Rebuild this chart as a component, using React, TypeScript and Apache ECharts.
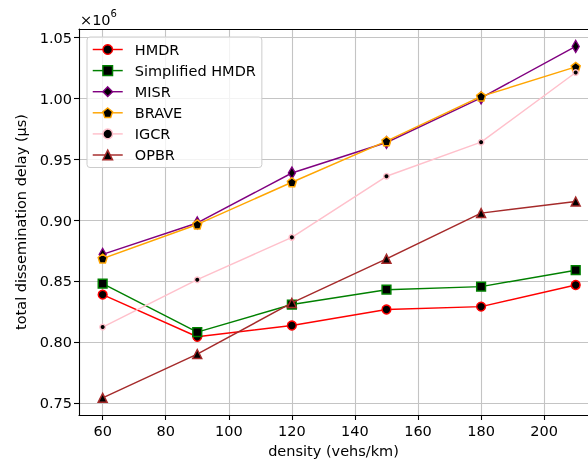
import React, { useEffect, useRef } from "react";
import * as echarts from "echarts";

const densities = [60, 90, 120, 150, 180, 210];
const xTicks = [60, 80, 100, 120, 140, 160, 180, 200];
const yTicks = [750000, 800000, 850000, 900000, 950000, 1000000, 1050000];

const hmdr = [839200, 804700, 813900, 827000, 829400, 847100];
const simplifiedHmdr = [848200, 808500, 831100, 843300, 845800, 859300];
const misr = [872200, 898000, 939000, 964000, 1000600, 1042800];
const brave = [868800, 896800, 931400, 965100, 1001800, 1026000];
const igcr = [812600, 851500, 886200, 936300, 964300, 1021400];
const opbr = [754600, 790500, 832400, 868600, 906100, 915600];

const seriesNames = ["HMDR", "Simplified HMDR", "MISR", "BRAVE", "IGCR", "OPBR"];
const seriesValues = [hmdr, simplifiedHmdr, misr, brave, igcr, opbr];
const seriesColors = ["#ff0000", "#008000", "#800080", "#ffa500", "#ffc0cb", "#a52a2a"];

const pentagon =
  "path://M0,-1 L0.951,-0.309 L0.588,0.809 L-0.588,0.809 L-0.951,-0.309 Z";
const seriesSymbols = ["circle", "rect", "diamond", pentagon, "circle", "triangle"];
const seriesSymbolSizes: any[] = [8.8, 8.8, [7, 12], 9, 5.5, 9];

const X_MIN = 52.5;
const X_MAX = 213.9;

const FONT = "DejaVu Sans";
const FS = 14.5;

export default function App() {
  const ref = useRef<HTMLDivElement>(null);
  useEffect(() => {
    if (!ref.current) return;
    const chart = echarts.init(ref.current, null, { renderer: "svg" });
    const series = seriesNames.map((name, i) => ({
      name,
      type: "line",
      data: densities.map((d, j) => [d, seriesValues[i][j]]),
      symbol: seriesSymbols[i],
      symbolSize: seriesSymbolSizes[i],
      showAllSymbol: true,
      clip: false,
      lineStyle: { color: seriesColors[i], width: 1.46 },
      itemStyle: { color: "#000", borderColor: seriesColors[i], borderWidth: 1.46 },
      emphasis: { disabled: true },
      z: 3 + i,
    }));
    chart.setOption({
      animation: false,
      textStyle: { fontFamily: FONT },
      grid: {
        left: 79,
        top: 29,
        right: 0,
        bottom: 46,
        show: false,
      },
      xAxis: [
        {
          type: "value",
          min: X_MIN,
          max: X_MAX,
          name: "density (vehs/km)",
          nameLocation: "middle",
          nameGap: 28,
          nameTextStyle: { fontSize: FS, color: "#000", fontFamily: FONT },
          axisLine: { show: true, lineStyle: { color: "#000", width: 1.1 } },
          axisTick: { show: true, length: 5, customValues: xTicks, lineStyle: { color: "#000", width: 1.1 } },
          axisLabel: {
            customValues: xTicks,
            fontSize: FS,
            color: "#000",
            fontFamily: FONT,
            margin: 8,
            formatter: (v: number) => String(v),
          },
          splitLine: { show: true, lineStyle: { color: "#c4c4c4", width: 1.1 } },
        },
        {
          type: "value",
          position: "top",
          min: X_MIN,
          max: X_MAX,
          axisLine: { show: true, onZero: false, lineStyle: { color: "#000", width: 1.1 } },
          axisTick: { show: false },
          axisLabel: { show: false },
          splitLine: { show: false },
        },
      ],
      yAxis: {
        type: "value",
        min: 740500,
        max: 1057100,
        name: "total dissemination delay (μs)",
        nameLocation: "middle",
        nameGap: 44,
        nameTextStyle: { fontSize: FS, color: "#000", fontFamily: FONT },
        axisLine: { show: true, lineStyle: { color: "#000", width: 1.1 } },
        axisTick: { show: true, length: 5, customValues: yTicks, lineStyle: { color: "#000", width: 1.1 } },
        axisLabel: {
          customValues: yTicks,
          fontSize: FS,
          color: "#000",
          fontFamily: FONT,
          margin: 7,
          formatter: (v: number) => (v / 1e6).toFixed(2),
        },
        splitLine: { show: true, lineStyle: { color: "#c4c4c4", width: 1.1 } },
      },
      legend: {
        orient: "vertical",
        left: 87,
        top: 37,
        padding: [5, 6, 5, 5],
        itemWidth: 30,
        itemHeight: 12,
        itemGap: 6.1,
        backgroundColor: "rgba(255,255,255,0.8)",
        borderColor: "#cccccc",
        borderWidth: 1,
        borderRadius: 3,
        selectedMode: false,
        textStyle: { fontSize: FS, color: "#000", fontFamily: FONT, padding: [0, 0, 0, 7] },
        data: seriesNames.map((name, i) => ({
          name,
          itemStyle: { color: "#000", borderColor: seriesColors[i], borderWidth: 1.46 },
          lineStyle: { color: seriesColors[i], width: 1.46 },
        })),
      },
      graphic: [
        {
          type: "text",
          left: 80,
          top: 12,
          style: { text: "×10", fontSize: FS, fill: "#000", fontFamily: FONT },
        },
        {
          type: "text",
          left: 110.5,
          top: 8,
          style: { text: "6", fontSize: 10, fill: "#000", fontFamily: FONT },
        },
      ],
      series,
    });
    return () => chart.dispose();
  }, []);
  return (
    <div
      ref={ref}
      style={{ position: "fixed", left: 0, top: 0, width: 588, height: 463, overflow: "hidden" }}
    />
  );
}
